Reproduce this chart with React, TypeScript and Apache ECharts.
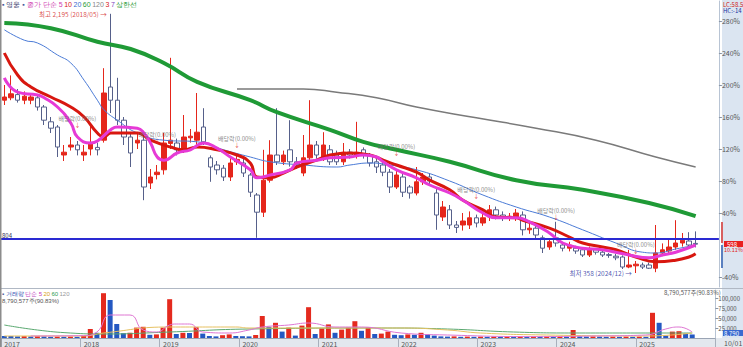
import React, { useEffect, useRef } from 'react';
import * as echarts from 'echarts';

const years = [2017, 2018, 2019, 2020, 2021, 2022, 2023, 2024, 2025];
const months: string[] = [];
for (const y of years) for (let m = 1; m <= 12; m++) months.push(`${y}/${String(m).padStart(2, '0')}`);

// monthly candles (% scale), 2017/01 .. 2025/09
const opens = [181,184,188,181,181,184,172.5,154,147.5,112.5,122.5,125,
112.5,120,122,131,197.5,181,156,135,127.5,131,77.5,88,
94,127,127.5,119,134,131,147.5,109,100,96,85,104,
102.5,87.5,62.5,41,81,112.5,104,119,104,90,109,125,
110,119,112.5,104,116,112.5,119,112.5,104,100,91,72.5,
85,72.5,65,79,85,65,35,44,25,25,25,34,
27.5,35,44,37.5,35,35,37.5,19,21,9,-2.5,9,
0,-4,-4,-6,-12.5,-6,-9,-12,-14,-15,-27.5,-26,
-25,-25,-29,-10,-7.5,-2.5,2.5,5,2];
const closes = [185,189,181,186,185,172.5,156,146,122.5,116,125,119,
116,128,119,190,181,156,135,115,131,72.5,85,91,
127.5,131,119,135,136,141,129,97.5,94,85,102.5,107,
90,66,41,81,112.5,104,112.5,104,100,109,125,112.5,
125,104,104,116,112.5,116,112.5,102.5,97.5,91,72.5,87.5,
66,65,79,85,80,37.5,47.5,25,22,30,34,27.5,
34,44,37.5,35,36,40,19,21,12.5,-4,4,2.5,
-4,0,-7.5,-12.5,-6,-9,-12.5,-13,-16,-27.5,-25,-24,
-27.5,-29,-10,-6,-2.5,2.5,6,0,1];
const lows = [175,181,178,176,176,168,150,140,110,105,118,112,
105,112,112,128,165,150,125,97.5,120,56,70,82,
88,120,112,115,128,125,125,79,88,80,80,100,
85,60,9,35,78,100,100,98,95,86,105,108,
105,100,100,100,108,108,108,98,90,86,65,70,
60,58,62,75,75,19,30,20,15,18,20,22,
24,30,32,30,30,30,12,14,8,-10,-6,-2,
-8,-8,-11,-15,-15,-12,-15,-16,-19,-30,-29,-35,
-30,-30,-34,-14,-10,-6,-2,-4,-3];
const highs = [200,212,195,192,190,188,175,160,150,125,135,130,
125,150,128,221,289,209,160,140,140,135,95,100,
140,234,133,162.5,145,190,171,112,105,100,110,112,
108,90,65,119,131,171,118,156,110,137.5,181,130,
141,125,118,127.5,120,154,122,115,108,105,95,95,
90,75,97.5,90,90,70,55,50,30,40,42,38,
42,50,48,42,40,45,42,28,24,12,8,29,
4,4,-1,-4,-2,-4,-6,-10,-11,-13,-6,-20,
-22,-22,25,2,8,31,15,16,17];

// volume (thousand shares)
const volumes = [5000,5000,4000,4500,4000,4500,4000,3000,3500,3000,3500,3000,
5000,22500,13000,112000,95000,35000,12000,13000,26000,28000,8000,9000,
26000,97000,10000,13000,12500,27000,11000,5000,4000,7000,9000,5000,
4500,4000,7500,55000,28000,38000,16000,26000,6000,31000,77000,10000,
24000,34000,13000,21000,26000,42000,18000,26000,10000,11000,16000,8000,
7000,9000,8000,13000,9000,6000,4000,3500,4000,3000,3500,3000,
3500,3000,3500,3000,3500,3000,3500,3000,3500,3000,3500,3000,
3500,3000,20000,4000,3500,4000,3500,3000,3500,3000,3500,3000,
3500,3000,63000,38000,6000,16000,17000,11000,8790];

// moving averages: [monthIndex, value]
const ma5 = [[0,209],[2,191],[5,187.5],[6,184],[8,172.5],[10,152.5],[11,135],[13,127.5],[14,130],[16,144],[17,147.5],[20,146],[21,140],[22,127.5],[23,110],[24,106],[26,115],[28,119],[30,127.5],[32,121],[34,110],[37,94],[38,84],[40,87.5],[43,94],[44,102.5],[47,106],[49,109],[52,110],[54,112.5],[56,110],[57,104],[59,94],[62,84],[64,75],[67,65],[69,56],[72,40],[74,34],[77,34],[79,29],[82,15],[84,2.5],[87,-4],[90,-6],[94,-12.5],[97,-16],[99,-12.5],[101,-9],[104,0]];
const ma10 = [[0,240],[2,212.5],[4,197.5],[7,185],[10,172.5],[12,160],[14,140],[15,135],[16,140],[20,140],[22,131],[25,122.5],[27,119],[29,122.5],[32,119],[35,112.5],[37,102.5],[38,85],[40,84],[42,90],[44,97.5],[47,106],[49,112.5],[52,115],[55,112.5],[57,106],[59,100],[62,91],[64,81],[67,69],[69,56],[72,44],[74,35],[77,34],[78,31],[82,21],[85,10],[87,2.5],[90,-2.5],[92,-6],[95,-15],[98,-21],[101,-19],[103,-15],[104,-11]];
const ma20 = [[0,269],[3,256],[5,252.5],[8,237.5],[10,227.5],[12,206],[14,181],[15,169],[17,156],[20,140],[24,131],[29,129],[33,119],[37,110],[40,104],[45,100],[50,97.5],[52,100],[55,102.5],[58,100],[62,94],[67,80],[72,62.5],[77,47.5],[82,35],[87,19],[92,2.5],[96,-9],[98,-10],[101,-5],[104,0]];
const ma60 = [[0,277.5],[7,271],[14,254],[19,245],[24,227.5],[29,204],[37,181],[41,166],[49,144],[54,129],[59,119],[67,104],[77,81],[87,69],[97,52.5],[104,36]];
const ma120 = [[35,195],[45,195],[50,191],[56,184],[62,172.5],[71,159],[80,146],[89,131],[98,110],[104,97.5]];

const volMa5 = [[4,5000],[12,6000],[14,15000],[16,57500],[19,57500],[21,20000],[23,15000],[25,32500],[26,35000],[28,35000],[30,15000],[34,12500],[37,20000],[39,27500],[43,32500],[46,37500],[50,27500],[54,27500],[60,12500],[67,7500],[80,3500],[89,5000],[97,7500],[100,22500],[102,27500],[104,15000]];
const volMa20 = [[0,5000],[12,5000],[15,12500],[25,27500],[35,27500],[37,25000],[52,25000],[60,25000],[67,20000],[72,12500],[82,7500],[97,5000],[104,12500]];
const volMa60 = [[0,32500],[5,20000],[10,12500],[15,10000],[25,15000],[37,22500],[57,25000],[67,22500],[77,15000],[87,12500],[97,12500],[104,12500]];

const pctTicks = [-40, 40, 80, 120, 160, 200, 240, 280];
const volTicks = [25000, 50000, 75000, 100000];
const BASE_LINE = 7.5;
const dividends = [[11, 155], [23, 135], [35, 129], [59, 119], [71, 66], [83, 39], [95, -2.5]];
const HIGH_POINT = [16, 289];
const LOW_POINT = [95, -35];

const RED = '#e5261b';
const DOWN = '#56608a';

export default function App() {
  const ref = useRef<HTMLDivElement>(null);
  useEffect(() => {
    if (!ref.current) return;
    const chart = echarts.init(ref.current, undefined, { renderer: 'svg' });
    const candleData = opens.map((o, i) => [o, closes[i], lows[i], highs[i]]);
    const volData = volumes.map((v, i) => ({
      value: v,
      itemStyle: { color: i > 0 && v > volumes[i - 1] ? '#e42a1e' : '#2458c2' },
    }));
    const font = 'Noto Sans CJK KR, DejaVu Sans, sans-serif';
    const line = (data: number[][], color: string, width: number, xi = 0) => ({
      type: 'line', xAxisIndex: xi, yAxisIndex: xi, data, smooth: true, showSymbol: false,
      symbol: 'none', lineStyle: { color, width }, silent: true, z: 3,
    });
    chart.setOption({
      animation: false,
      backgroundColor: '#ffffff',
      textStyle: { fontFamily: font },
      grid: [
        { left: 1, top: 1, width: 721, height: 286 },
        { left: 1, top: 290, width: 721, height: 48 },
      ],
      xAxis: [
        { type: 'category', gridIndex: 0, data: months, axisLine: { show: false }, axisTick: { show: false }, axisLabel: { show: false } },
        {
          type: 'category', gridIndex: 1, data: months,
          axisLine: { lineStyle: { color: '#9aa4b4' } },
          axisTick: { show: true, interval: (i: number) => i % 12 === 0, length: 9, lineStyle: { color: '#a8b0bc' } },
          axisLabel: { interval: (i: number) => i % 12 === 0, formatter: (v: string) => v.slice(0, 4), fontSize: 7, color: '#555', align: 'left', margin: 2 },
        },
      ],
      yAxis: [
        {
          type: 'value', gridIndex: 0, position: 'right', min: -52.5, max: 305, splitLine: { show: false },
          axisLine: { show: true, lineStyle: { color: '#b8c4d4' } },
          axisTick: { show: true, customValues: pctTicks, length: 3, lineStyle: { color: '#8894a4' } },
          axisLabel: { customValues: pctTicks, formatter: (v: number) => `${v}%`, fontSize: 7, color: '#555', margin: 3 },
        },
        {
          type: 'value', gridIndex: 1, position: 'right', min: 0, max: 120000, splitLine: { show: false },
          axisLine: { show: true, lineStyle: { color: '#b8c4d4' } },
          axisTick: { show: true, customValues: volTicks, length: 3, lineStyle: { color: '#8894a4' } },
          axisLabel: { customValues: volTicks, formatter: (v: number) => v.toLocaleString('en-US'), fontSize: 6, color: '#555', margin: 3 },
        },
      ],
      series: [
        {
          type: 'candlestick', xAxisIndex: 0, yAxisIndex: 0, data: candleData, barWidth: 5, silent: true, z: 2,
          itemStyle: { color: RED, color0: '#ffffff', borderColor: RED, borderColor0: DOWN, borderWidth: 1 },
          markLine: {
            silent: true, symbol: 'none', data: [{ yAxis: BASE_LINE }],
            lineStyle: { color: '#2a2ad2', width: 2, type: 'solid' },
            label: { show: true, position: 'insideStartTop', formatter: '804', fontSize: 6, color: '#335', distance: 1 },
          },
        },
        line(ma60, '#1f9a36', 4),
        line(ma120, '#7a7a7a', 1.5),
        line(ma20, '#4b7bd6', 1),
        line(ma10, '#d8170f', 3),
        line(ma5, '#e63ad6', 3),
        {
          type: 'scatter', xAxisIndex: 0, yAxisIndex: 0, data: dividends, symbolSize: 0, silent: true, z: 5,
          label: {
            show: true, position: 'inside', formatter: '{a|배당락(0.00%)}\n{b|↓}',
            rich: { a: { fontSize: 6, color: '#6a6a6a', fontFamily: font }, b: { fontSize: 6, color: '#e02020', align: 'center' } },
          },
        },
        {
          type: 'scatter', xAxisIndex: 0, yAxisIndex: 0, data: [HIGH_POINT], symbolSize: 0, silent: true, z: 5,
          label: { show: true, position: 'left', distance: 4, formatter: '최고 2,195 (2018/05) →', fontSize: 6.5, color: '#d22020', fontFamily: font },
        },
        {
          type: 'scatter', xAxisIndex: 0, yAxisIndex: 0, data: [LOW_POINT], symbolSize: 0, silent: true, z: 5,
          label: { show: true, position: 'left', distance: 4, formatter: '최저 358 (2024/12) →', fontSize: 6.5, color: '#1c2c9c', fontFamily: font },
        },
        { type: 'bar', xAxisIndex: 1, yAxisIndex: 1, data: volData, barWidth: 5, silent: true, z: 2 },
        line(volMa60, '#5aa870', 1, 1),
        line(volMa20, '#e6c060', 1, 1),
        line(volMa5, '#de76d2', 1, 1),
      ],
      graphic: [
        { type: 'rect', z: -10, silent: true, shape: { x: 722, y: 0, width: 21, height: 338 }, style: { fill: '#dbe5f1' } },
        { type: 'rect', z: -10, silent: true, shape: { x: 0, y: 338, width: 743, height: 9 }, style: { fill: '#e3e8ee' } },
        { type: 'line', z: 10, silent: true, shape: { x1: 0, y1: 288.5, x2: 743, y2: 288.5 }, style: { stroke: '#b0b8c4', lineWidth: 1 } },
        { type: 'line', z: 10, silent: true, shape: { x1: 0.5, y1: 0, x2: 0.5, y2: 347 }, style: { stroke: '#8c8c8c', lineWidth: 2 } },
        {
          type: 'text', z: 20, silent: true, x: 2, y: 1,
          style: {
            text: '{g|▪ }{n|영웅}{g| ▪ }{p|종가 단순 5} {r|10} {b|20} {gr|60} {gy|120} {r|3} {pu|7} {gr|상한선}',
            font: `7px ${font}`,
            rich: {
              g: { fill: '#4a5a9a', fontSize: 7 }, n: { fill: '#333366', fontSize: 7 }, p: { fill: '#d040b0', fontSize: 7 },
              r: { fill: '#d82020', fontSize: 7 }, b: { fill: '#3a6ad0', fontSize: 7 }, gr: { fill: '#1f9a36', fontSize: 7 },
              gy: { fill: '#888888', fontSize: 7 }, pu: { fill: '#8040c0', fontSize: 7 },
            },
          },
        },
        {
          type: 'text', z: 20, silent: true, x: 2, y: 291,
          style: {
            text: '{g|▪ }{b|거래량} {p|단순 5} {y|20} {gr|60} {gy|120}\n{k|8,790,577주(90.83%)}',
            font: `6px ${font}`,
            rich: {
              g: { fill: '#4a5a9a', fontSize: 6 }, b: { fill: '#3050b0', fontSize: 6 }, p: { fill: '#c040c0', fontSize: 6 },
              y: { fill: '#d8a020', fontSize: 6 }, gr: { fill: '#2f9a50', fontSize: 6 }, gy: { fill: '#999', fontSize: 6 },
              k: { fill: '#555', fontSize: 6, lineHeight: 7 },
            },
          },
        },
        { type: 'text', z: 20, silent: true, x: 664, y: 289, style: { text: '8,790,577주(90.83%)', font: `6px ${font}`, fill: '#555' } },
        { type: 'text', z: 20, silent: true, x: 723, y: 1, style: { text: 'LC:58.5', font: `6px ${font}`, fill: '#d02020' } },
        { type: 'text', z: 20, silent: true, x: 723, y: 7, style: { text: 'HC:-14', font: `6px ${font}`, fill: '#2030a0' } },
        { type: 'rect', z: 20, silent: true, shape: { x: 721, y: 222, width: 2, height: 21 }, style: { fill: '#d86060' } },
        { type: 'rect', z: 20, silent: true, shape: { x: 721, y: 245, width: 2, height: 23 }, style: { fill: '#5a80c0' } },
        { type: 'rect', z: 20, silent: true, shape: { x: 724, y: 241, width: 19, height: 6 }, style: { fill: '#e82020' } },
        { type: 'text', z: 21, silent: true, x: 727, y: 241, style: { text: '598', font: `6px ${font}`, fill: '#ffffff' } },
        { type: 'text', z: 21, silent: true, x: 724, y: 247, style: { text: '10.11%', font: `5.5px ${font}`, fill: '#e02020' } },
        { type: 'rect', z: 20, silent: true, shape: { x: 723, y: 330, width: 20, height: 6 }, style: { fill: '#3a6ad0' } },
        { type: 'text', z: 21, silent: true, x: 724, y: 330, style: { text: '8,790', font: `6px ${font}`, fill: '#ffffff' } },
        { type: 'text', z: 21, silent: true, x: 724, y: 339, style: { text: '10/01', font: `7px ${font}`, fill: '#555' } },
      ],
    });
    return () => chart.dispose();
  }, []);
  return <div ref={ref} style={{ position: 'absolute', left: 0, top: 0, width: 743, height: 347 }} />;
}
